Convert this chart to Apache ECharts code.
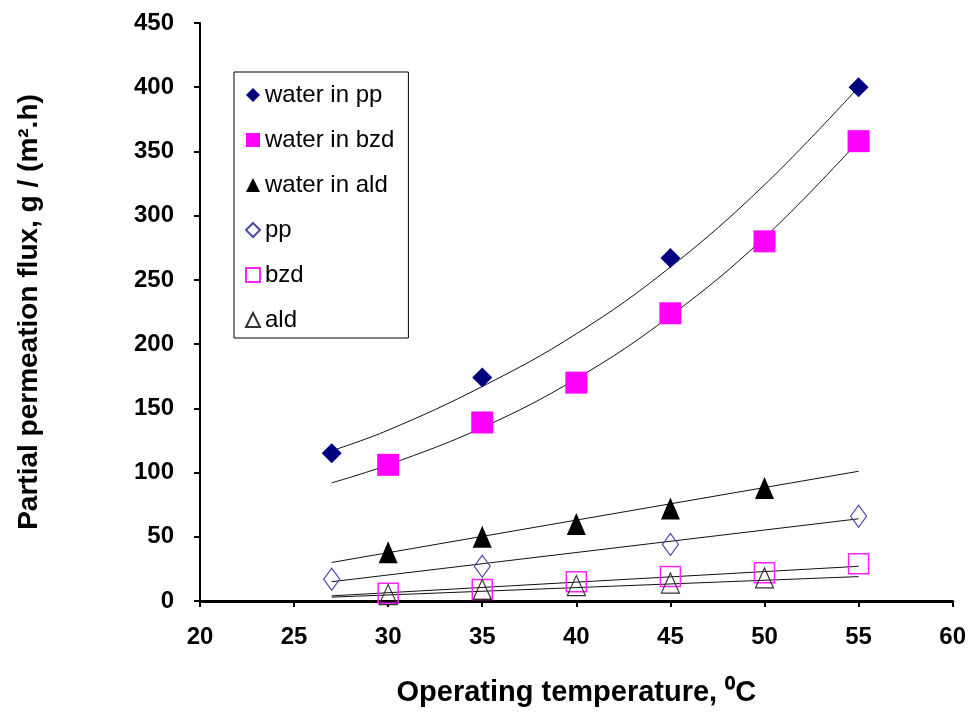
<!DOCTYPE html>
<html><head><meta charset="utf-8">
<script src="https://cdn.jsdelivr.net/npm/echarts@6/dist/echarts.min.js"></script>
<style>html,body{margin:0;padding:0;background:#fff}#c{width:969px;height:713px}</style>
</head><body><div id="c"></div>
<script>
// Measured data
const xWaterPP = [27, 35, 45, 55];
const yWaterPP = [115, 174, 267, 400];
const xWaterBzd = [30, 35, 40, 45, 50, 55];
const yWaterBzd = [106, 139, 170, 224, 280, 358];
const xWaterAld = [30, 35, 40, 45, 50];
const yWaterAld = [38, 50, 60, 72, 88];
const xPP = [27, 35, 45, 55];
const yPP = [17, 27, 44, 66];
const xBzd = [30, 35, 40, 45, 50, 55];
const yBzd = [6, 9, 15, 19, 22, 29];
const xAld = [30, 35, 40, 45, 50];
const yAld = [5, 9, 12, 14, 18];

// Trendlines
const xTrendCurve = [27, 30, 35, 40, 45, 50, 55];
const yTrendWaterPP = [117, 133, 167, 208, 260, 324, 400];
const yTrendWaterBzd = [92, 106, 135, 173, 222, 283, 358];
const xTrendLin = [27, 55];
const yTrendWaterAld = [30, 101];
const yTrendPP = [15, 64];
const yTrendBzd = [4, 27];
const yTrendAld = [3, 19];

const xTicks = [20, 25, 30, 35, 40, 45, 50, 55, 60];
const yTicks = [0, 50, 100, 150, 200, 250, 300, 350, 400, 450];

const pairs = (xs, ys) => xs.map((x, i) => [x, ys[i]]);
const FONT = 'Liberation Sans, Arial, sans-serif';

function scatter(name, xs, ys, symbol, size, fill, border, bw) {
  return {
    name, type: 'scatter', data: pairs(xs, ys), symbol, symbolSize: size, z: 5,
    itemStyle: { color: fill, borderColor: border, borderWidth: bw, opacity: 1 }
  };
}
function trend(xs, ys, smooth) {
  return {
    type: 'line', data: pairs(xs, ys), showSymbol: false, smooth: smooth ? 0.4 : false,
    lineStyle: { color: '#111', width: 1 }, z: 2, silent: true, legendHoverLink: false
  };
}

const chart = echarts.init(document.getElementById('c'));
chart.setOption({
  animation: false,
  backgroundColor: '#fff',
  grid: { left: 200, right: 12, top: 23, bottom: 112 },
  legend: {
    orient: 'vertical', left: 234, top: 72,
    data: ['water in pp', 'water in bzd', 'water in ald', 'pp', 'bzd', 'ald'],
    padding: [11, 14, 6, 11], itemGap: 21, itemWidth: 14, itemHeight: 14,
    borderColor: '#000', borderWidth: 1,
    textStyle: { fontFamily: FONT, fontSize: 24, color: '#000' }
  },
  xAxis: {
    type: 'value', min: 20, max: 60, interval: 5,
    name: 'Operating temperature, \u2070C', nameLocation: 'middle', nameGap: 77,
    nameTextStyle: { fontFamily: FONT, fontWeight: 'bold', fontSize: 29, color: '#000' },
    axisLine: { lineStyle: { color: '#000', width: 3 } },
    axisTick: { show: true, length: 6, lineStyle: { color: '#000', width: 2 } },
    axisLabel: { fontFamily: FONT, fontWeight: 'bold', fontSize: 24, color: '#000', margin: 24 },
    splitLine: { show: false }
  },
  yAxis: {
    type: 'value', min: 0, max: 450, interval: 50,
    name: 'Partial permeation flux, g / (m\u00b2.h)', nameLocation: 'middle', nameGap: 157,
    nameTextStyle: { fontFamily: FONT, fontWeight: 'bold', fontSize: 28, color: '#000' },
    axisLine: { show: true, lineStyle: { color: '#000', width: 2 } },
    axisTick: { show: true, length: 6, lineStyle: { color: '#000', width: 2 } },
    axisLabel: { fontFamily: FONT, fontWeight: 'bold', fontSize: 24, color: '#000', margin: 26 },
    splitLine: { show: false }
  },
  series: [
    trend(xTrendCurve, yTrendWaterPP, true),
    trend(xTrendCurve, yTrendWaterBzd, true),
    trend(xTrendLin, yTrendWaterAld, false),
    trend(xTrendLin, yTrendPP, false),
    trend(xTrendLin, yTrendBzd, false),
    trend(xTrendLin, yTrendAld, false),
    scatter('water in pp', xWaterPP, yWaterPP, 'diamond', 20, '#000080', '#000080', 0),
    scatter('water in bzd', xWaterBzd, yWaterBzd, 'rect', 22, '#ff00ff', '#ff00ff', 0),
    scatter('water in ald', xWaterAld, yWaterAld, 'triangle', [19, 22], '#000', '#000', 0),
    scatter('pp', xPP, yPP, 'diamond', [16, 22], 'rgba(255,255,255,0)', '#4a4aa8', 1.2),
    scatter('bzd', xBzd, yBzd, 'rect', 20, 'rgba(255,255,255,0)', '#ff22ff', 1.5),
    scatter('ald', xAld, yAld, 'triangle', [18, 20], 'rgba(255,255,255,0)', '#333', 1.2)
  ]
});
</script></body></html>
